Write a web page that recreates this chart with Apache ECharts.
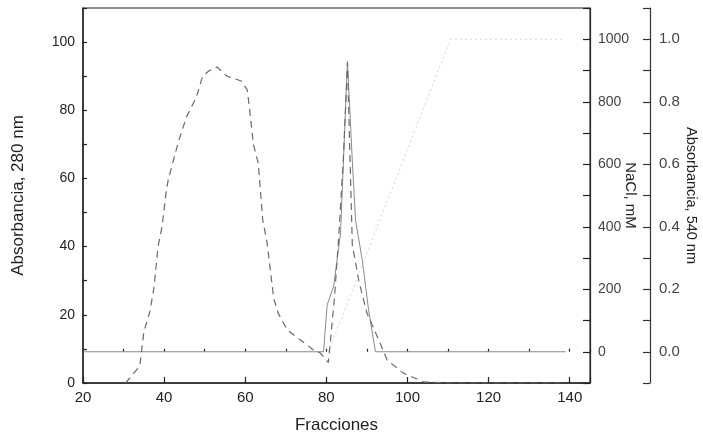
<!DOCTYPE html>
<html>
<head>
<meta charset="utf-8">
<script src="https://cdn.jsdelivr.net/npm/echarts@6/dist/echarts.min.js"></script>
<style>
  html, body { margin: 0; padding: 0; background: #fff; }
  #chart { width: 703px; height: 439px; }
</style>
</head>
<body>
<div id="chart"></div>
<script>
// Absorbance at 280 nm (dashed)
const fraccionesA280 = [30.5, 34, 35, 36.5, 37.5, 38.5, 39.5, 40.5, 41, 43.5, 45.5, 48, 49.5, 51, 53, 55.5, 59, 60.5, 61.2, 62, 63.2, 64.3, 65.4, 66.2, 67, 68.1, 70.4, 73.6, 76.8, 78.5, 80.5, 82, 83, 84.2, 85.2, 86.4, 88, 90, 92.6, 95, 99, 104, 110, 120, 130, 139];
const a280 = [0, 5, 15, 21, 28, 40, 46, 56, 59.5, 70.7, 78, 84, 90, 91.5, 92.7, 90, 88.6, 86, 79, 70, 64.5, 48, 41, 33, 25, 20.5, 15.5, 12.6, 9.7, 8.8, 6, 25, 42, 66, 94, 40.5, 30, 20.5, 13.5, 6.7, 2.9, 0.3, 0, 0, 0, 0];

// Absorbance at 540 nm (solid)
const fraccionesA540 = [20, 79.3, 80.2, 81.8, 83.5, 85.2, 86.4, 87.2, 88.9, 90.4, 92.1, 139];
const a540 = [0, 0, 0.15, 0.21, 0.38, 0.93, 0.61, 0.42, 0.29, 0.135, 0, 0];

// NaCl gradient (dotted)
const fraccionesNaCl = [80.5, 110.6, 138.5];
const nacl = [0, 1000, 1000];

// Tick label values
const xTicks = [20, 40, 60, 80, 100, 120, 140];
const yLeftTicks = [0, 20, 40, 60, 80, 100];
const yNaClTicks = [0, 200, 400, 600, 800, 1000];
const yA540Ticks = [0.0, 0.2, 0.4, 0.6, 0.8, 1.0];

const zip = (xs, ys) => xs.map((x, i) => [x, ys[i]]);
const FONT = 'Liberation Sans, Arial, sans-serif';
const AXIS = '#222';

const chart = echarts.init(document.getElementById('chart'), null, { renderer: 'canvas' });

chart.setOption({
  animation: false,
  backgroundColor: '#fff',
  grid: {
    left: 83, right: 113, top: 8, bottom: 56,
    outerBoundsMode: 'none', containLabel: false,
    show: true, borderColor: AXIS, borderWidth: 1
  },
  xAxis: [
    {
      type: 'value', position: 'bottom', min: 20, max: 145, interval: 20,
      axisLine: { lineStyle: { color: AXIS, width: 1.5 } },
      axisTick: { inside: true, length: 6, lineStyle: { color: AXIS, width: 1.2 } },
      splitLine: { show: false },
      axisLabel: {
        color: AXIS, fontSize: 15, fontFamily: FONT, margin: 7,
        formatter: v => (xTicks.includes(v) ? String(v) : '')
      },
      name: 'Fracciones', nameLocation: 'middle', nameGap: 34, nameMoveOverlap: false,
      nameTextStyle: { color: AXIS, fontSize: 17, fontFamily: FONT }
    },
    {
      type: 'value', position: 'bottom', min: 20, max: 145, interval: 10,
      axisLine: { show: false },
      axisTick: { inside: true, length: 3, lineStyle: { color: AXIS, width: 1.2 } },
      axisLabel: { show: false },
      splitLine: { show: false }
    }
  ],
  yAxis: [
    {
      type: 'value', position: 'left', min: 0, max: 110, interval: 10,
      axisLine: { show: true, lineStyle: { color: AXIS, width: 1.5 } },
      axisTick: { inside: true, length: 4, lineStyle: { color: AXIS, width: 1.2 } },
      splitLine: { show: false },
      axisLabel: {
        color: AXIS, fontSize: 14, fontFamily: FONT, margin: 8,
        formatter: v => (yLeftTicks.includes(v) ? String(v) : '')
      },
      name: 'Absorbancia, 280 nm', nameLocation: 'middle', nameGap: 56, nameRotate: 90,
      nameMoveOverlap: false,
      nameTextStyle: { color: AXIS, fontSize: 17, fontFamily: FONT }
    },
    {
      type: 'value', position: 'right', offset: 0, min: -100, max: 1100, interval: 100,
      axisLine: { show: true, lineStyle: { color: AXIS, width: 1.2 } },
      axisTick: { inside: true, length: 7, lineStyle: { color: AXIS, width: 1.2 } },
      splitLine: { show: false },
      axisLabel: {
        color: '#444', fontSize: 14, fontFamily: FONT, margin: 8,
        formatter: v => (yNaClTicks.includes(Math.round(v)) ? String(Math.round(v)) : '')
      },
      name: 'NaCl, mM', nameLocation: 'middle', nameGap: 33, nameRotate: -90,
      nameMoveOverlap: false,
      nameTextStyle: { color: AXIS, fontSize: 15, fontFamily: FONT }
    },
    {
      type: 'value', position: 'right', offset: 60, min: -0.1, max: 1.1, interval: 0.1,
      axisLine: { show: true, lineStyle: { color: '#333', width: 1.2 } },
      axisTick: { inside: true, length: 7, lineStyle: { color: '#333', width: 1.2 } },
      splitLine: { show: false },
      axisLabel: {
        color: '#444', fontSize: 15, fontFamily: FONT, margin: 9,
        formatter: v => {
          const t = Math.round(v * 10) / 10;
          return yA540Ticks.some(k => Math.abs(k - t) < 1e-9) ? t.toFixed(1) : '';
        }
      },
      name: 'Absorbancia, 540 nm', nameLocation: 'middle', nameGap: 33, nameRotate: -90,
      nameMoveOverlap: false,
      nameTextStyle: { color: AXIS, fontSize: 14.5, fontFamily: FONT }
    }
  ],
  series: [
    {
      name: 'NaCl', type: 'line', xAxisIndex: 0, yAxisIndex: 1,
      data: zip(fraccionesNaCl, nacl), showSymbol: false, symbol: 'none',
      lineStyle: { color: '#d4d4d4', width: 1, type: [2, 3] }, z: 1
    },
    {
      name: 'A540', type: 'line', xAxisIndex: 0, yAxisIndex: 2,
      data: zip(fraccionesA540, a540), showSymbol: false, symbol: 'none',
      lineStyle: { color: '#8a8a8a', width: 1 }, z: 2
    },
    {
      name: 'A280', type: 'line', xAxisIndex: 0, yAxisIndex: 0,
      data: zip(fraccionesA280, a280), showSymbol: false, symbol: 'none',
      lineStyle: { color: '#6a6a6a', width: 1.2, type: [7, 5] }, z: 3
    }
  ]
});
</script>
</body>
</html>
